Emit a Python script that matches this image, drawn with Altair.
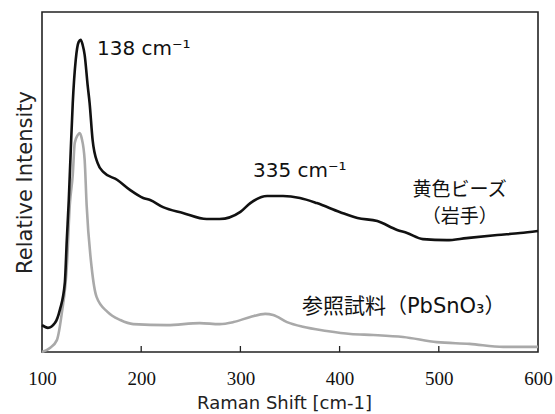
import altair as alt
import pandas as pd

# Black spectrum: 黄色ビーズ（岩手）
black_x = [100, 106, 113, 118, 123, 125, 127, 129, 131, 134, 137, 139, 141, 143, 146, 148,
           151, 156, 162, 176, 189, 202, 209, 222, 242, 266, 279, 300, 310, 327, 343, 360,
           377, 400, 418, 438, 458, 468, 484, 508, 528, 559, 582, 600]
black_y = [7.9, 7.1, 8.5, 12.4, 20.3, 32.9, 44.7, 59.4, 73.2, 85.9, 91.2, 91.8, 90.3, 87.4, 78.5, 73.2,
           62.4, 55.6, 52.9, 50.6, 47.6, 45.3, 44.7, 42.6, 40.9, 39.1, 39.1, 41.2, 43.8, 45.9, 45.9, 45.3,
           43.8, 41.2, 39.4, 38.5, 35.9, 35.0, 33.2, 32.9, 33.5, 34.4, 35.0, 35.6]

# Gray spectrum: 参照試料（PbSnO3）
gray_x = [100, 108, 115, 120, 125, 128, 131, 133, 136, 138, 140, 143, 145, 150, 155, 166, 179, 192,
          226, 259, 279, 293, 310, 325, 333, 347, 363, 387, 411, 434, 464, 498, 531, 565, 592, 600]
gray_y = [0.0, 1.2, 3.5, 11.5, 25.0, 43.2, 52.1, 61.5, 63.8, 64.4, 62.9, 56.5, 43.2, 25.0, 16.2, 11.8, 9.4, 8.2,
          7.9, 8.5, 8.2, 8.8, 10.3, 11.2, 10.9, 8.8, 7.4, 6.2, 5.3, 5.0, 4.4, 2.9, 2.4, 1.5, 1.5, 1.5]

tick_values = [100, 200, 300, 400, 500, 600]
inner_ticks = [200, 300, 400, 500]

peak_labels = ["138 cm⁻¹", "335 cm⁻¹"]
peak_x = [155.5, 312.7]
peak_y = [87.5, 51.5]

jp_labels = ["黄色ビーズ", "（岩手）"]
jp_x = [521, 521]
jp_y = [47.6, 39.7]

ref_label = ["参照試料（PbSnO₃）"]
ref_x = [362]
ref_y = [13.2]

W, H = 496, 340

xscale = alt.Scale(domain=[100, 600], nice=False, zero=False)
yscale = alt.Scale(domain=[0, 100], nice=False, zero=False)

df_black = pd.DataFrame({"x": black_x, "y": black_y})
df_gray = pd.DataFrame({"x": gray_x, "y": gray_y})

SERIF = "'Liberation Serif', 'Times New Roman', 'DejaVu Serif', serif"

xaxis = alt.Axis(values=tick_values, ticks=False, domain=False, grid=False,
                 labelFlush=False, labelOverlap=False,
                 labelFont=SERIF, labelFontSize=19, labelColor="#111",
                 labelPadding=17, title="Raman Shift [cm-1]", titleFont="DejaVu Sans",
                 titleFontSize=18, titleFontWeight="normal", titleColor="#222", titlePadding=6,
                 titleX=242)
yaxis = alt.Axis(labels=False, ticks=False, domain=False, grid=False,
                 title="Relative Intensity", titleFont="DejaVu Sans", titleFontSize=21,
                 titleFontWeight="normal", titleColor="#222", titlePadding=7)

X = alt.X("x:Q", scale=xscale, axis=xaxis)
Y = alt.Y("y:Q", scale=yscale, axis=yaxis)

gray = alt.Chart(df_gray).mark_line(color="#a9a9a9", strokeWidth=2.6, interpolate="monotone").encode(
    x=X, y=Y)
black = alt.Chart(df_black).mark_line(color="#111111", strokeWidth=2.6, interpolate="monotone").encode(
    x=X, y=Y)

ticks = alt.Chart(pd.DataFrame({"x": inner_ticks})).mark_rule(color="#222", strokeWidth=1.3).encode(
    x=X,
    y=alt.value(H),
    y2=alt.value(H - 6),
)

peaks = alt.Chart(pd.DataFrame({"x": peak_x, "y": peak_y, "t": peak_labels})).mark_text(
    font="DejaVu Sans", fontSize=20, align="left", baseline="alphabetic", color="#111"
).encode(x=X, y=Y, text="t:N")

jp = alt.Chart(pd.DataFrame({"x": jp_x, "y": jp_y, "t": jp_labels})).mark_text(
    font="Noto Sans CJK JP", fontSize=19, align="center", baseline="middle", color="#111"
).encode(x=X, y=Y, text="t:N")

ref = alt.Chart(pd.DataFrame({"x": ref_x, "y": ref_y, "t": ref_label})).mark_text(
    font="DejaVu Sans, 'Noto Sans CJK JP'", fontSize=21, align="left", baseline="middle", color="#111"
).encode(x=X, y=Y, text="t:N")

chart = alt.layer(gray, black, ticks, peaks, jp, ref).properties(
    width=W, height=H,
    autosize=alt.AutoSizeParams(type="none"),
    padding={"left": 42, "top": 12, "right": 17, "bottom": 62},
    background="white",
).configure_view(stroke="#222", strokeWidth=1.6)

chart.save("out.html", embed_options={"renderer": "svg", "actions": False})
